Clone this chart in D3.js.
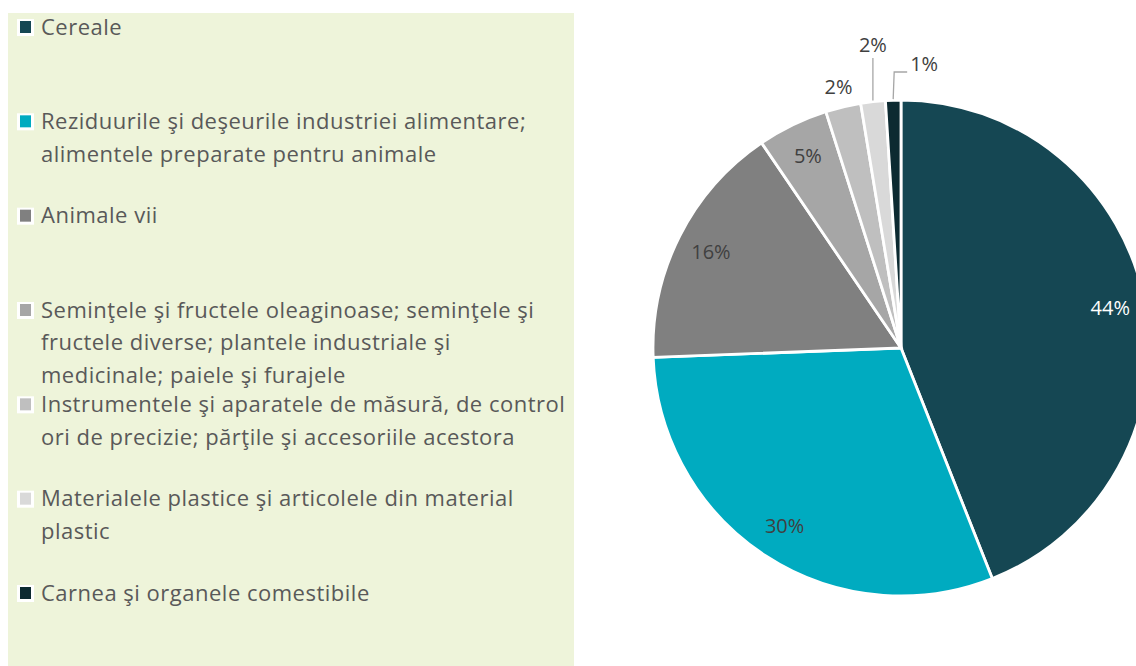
<!DOCTYPE html>
<html>
<head>
<meta charset="utf-8">
<script src="https://cdn.jsdelivr.net/npm/d3@7"></script>
<style>
  body { margin: 0; background: #fff; }
  svg { display: block; font-family: "Open Sans", sans-serif; }
</style>
</head>
<body>
<script>
// data
const categories = [
  "Cereale",
  "Reziduurile şi deşeurile industriei alimentare; alimentele preparate pentru animale",
  "Animale vii",
  "Seminţele şi fructele oleaginoase; seminţele şi fructele diverse; plantele industriale şi medicinale; paiele şi furajele",
  "Instrumentele şi aparatele de măsură, de control ori de precizie; părţile şi accesoriile acestora",
  "Materialele plastice şi articolele din material plastic",
  "Carnea şi organele comestibile"
]
const shares = [44.0, 30.4, 16.1, 4.6, 2.3, 1.6, 1.0]
const pctLabels = ["44%", "30%", "16%", "5%", "2%", "2%", "1%"]
// legend lines as wrapped in the original
const legendLines = [
  ["Cereale"],
  ["Reziduurile şi deşeurile industriei alimentare;", "alimentele preparate pentru animale"],
  ["Animale vii"],
  ["Seminţele şi fructele oleaginoase; seminţele şi", "fructele diverse; plantele industriale şi", "medicinale; paiele şi furajele"],
  ["Instrumentele şi aparatele de măsură, de control", "ori de precizie; părţile şi accesoriile acestora"],
  ["Materialele plastice şi articolele din material", "plastic"],
  ["Carnea şi organele comestibile"]
]
const colors = ["#154753", "#00abc0", "#808080", "#a6a6a6", "#bfbfbf", "#d9d9d9", "#0c2a31"]

let width = 1136
let height = 666

let svg = d3.select("body").append("svg")
    .attr("width", width)
    .attr("height", height)

// legend panel
svg.append("rect")
    .attr("x", 8).attr("y", 13)
    .attr("width", 566).attr("height", 653)
    .attr("fill", "#eef4da")

let rowY = d3.scalePoint().domain(d3.range(categories.length)).range([27, 593])
let lineH = 32.5

let items = svg.selectAll("g.item")
    .data(categories).enter()
    .append("g")
    .attr("class", "item")
    .attr("transform", (d, i) => `translate(0,${rowY(i)})`)

items.append("rect")
    .attr("x", 17).attr("y", -8)
    .attr("width", 17).attr("height", 17)
    .attr("fill", "#fff")
items.append("rect")
    .attr("x", 20).attr("y", -6)
    .attr("width", 11).attr("height", 12)
    .attr("fill", (d, i) => colors[i])

items.each(function (d, i) {
    let g = d3.select(this)
    legendLines[i].forEach((line, j) => {
        g.append("text")
            .attr("x", 41)
            .attr("y", j * lineH)
            .attr("dy", "0.35em")
            .attr("fill", "#595959")
            .style("font-size", "22px")
            .style("letter-spacing", "0.5px")
            .text(line)
    })
})

// pie
let cx = 901, cy = 348, R = 248
let pie = d3.pie().sort(null).value(d => d)
let arcs = pie(shares)
let arc = d3.arc().innerRadius(0).outerRadius(R)

let gPie = svg.append("g").attr("transform", `translate(${cx},${cy})`)

gPie.selectAll("path")
    .data(arcs).enter()
    .append("path")
    .attr("d", arc)
    .attr("fill", (d, i) => colors[i])
    .attr("stroke", "#fff")
    .attr("stroke-width", 2.8)

// labels
const mid = d => (d.startAngle + d.endAngle) / 2
const pt = (a, r) => [r * Math.sin(a), -r * Math.cos(a)]

arcs.forEach((d, i) => {
    let a = mid(d)
    let lbl = gPie.append("text")
        .attr("text-anchor", "middle")
        .attr("dy", "0.35em")
        .attr("fill", i === 0 ? "#fff" : "#404040")
        .style("font-size", "20px")
        .text(pctLabels[i])
    if (i < 4) {
        let p = pt(a, 213)
        lbl.attr("x", p[0]).attr("y", p[1])
    } else if (i === 4) {
        let p = pt(a, 268)
        lbl.attr("x", p[0]).attr("y", p[1])
    } else if (i === 5) {
        let p0 = pt(a, R + 1)
        gPie.append("path")
            .attr("d", d3.line()([p0, [p0[0], -290]]))
            .attr("stroke", "#a6a6a6").attr("fill", "none").attr("stroke-width", 1.3)
        lbl.attr("x", p0[0]).attr("y", -303)
    } else {
        let p0 = pt(a, R + 1)
        gPie.append("path")
            .attr("d", d3.line()([p0, [p0[0] + 1, -276], [p0[0] + 14, -276]]))
            .attr("stroke", "#a6a6a6").attr("fill", "none").attr("stroke-width", 1.3)
        lbl.attr("text-anchor", "start").attr("x", p0[0] + 17).attr("y", -284)
    }
})
</script>
</body>
</html>
